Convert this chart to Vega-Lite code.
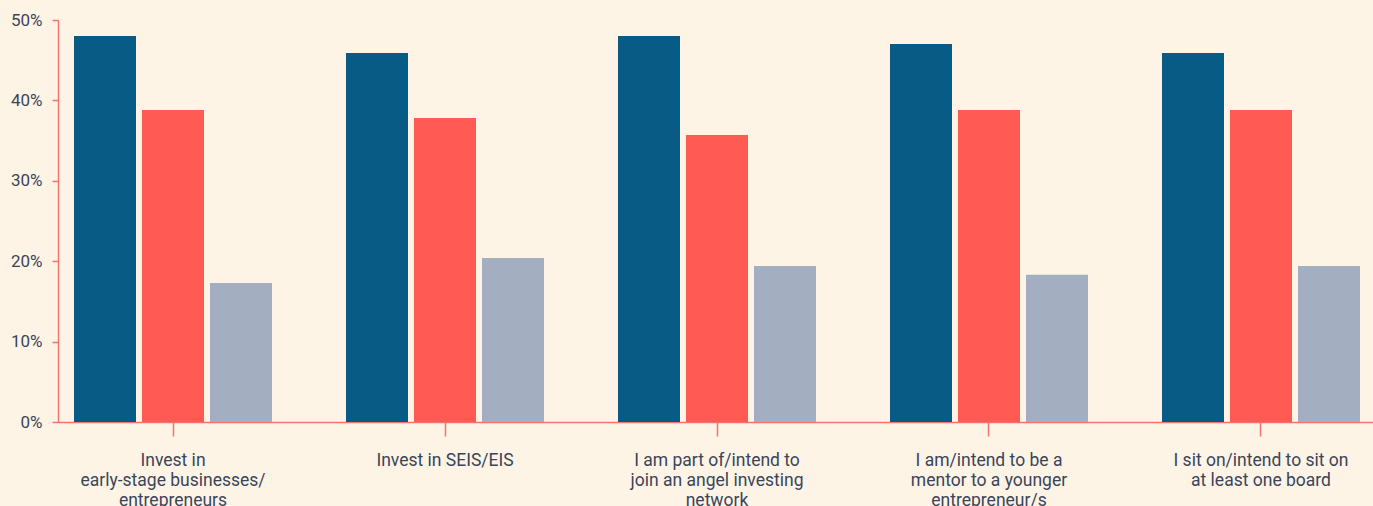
{
  "$schema": "https://vega.github.io/schema/vega-lite/v6.json",
  "autosize": {"type": "none"},
  "padding": {"left": 58, "top": 20, "right": 0, "bottom": 84},
  "width": 1318,
  "height": 402,
  "background": "#fdf4e6",
  "config": {
    "view": {"stroke": null},
    "font": "Roboto",
    "axis": {"labelFont": "Roboto", "labelColor": "#3a4559", "labelFontSize": 17, "grid": false, "domainColor": "#f4736a", "tickColor": "#f4736a", "domainWidth": 1.5, "tickWidth": 1.5}
  },
  "data": {
    "values": [
      {"category": "Invest in|early-stage businesses/|entrepreneurs", "series": "Series 1", "value": 0.480},
      {"category": "Invest in|early-stage businesses/|entrepreneurs", "series": "Series 2", "value": 0.388},
      {"category": "Invest in|early-stage businesses/|entrepreneurs", "series": "Series 3", "value": 0.173},
      {"category": "Invest in SEIS/EIS", "series": "Series 1", "value": 0.459},
      {"category": "Invest in SEIS/EIS", "series": "Series 2", "value": 0.378},
      {"category": "Invest in SEIS/EIS", "series": "Series 3", "value": 0.204},
      {"category": "I am part of/intend to|join an angel investing|network", "series": "Series 1", "value": 0.480},
      {"category": "I am part of/intend to|join an angel investing|network", "series": "Series 2", "value": 0.357},
      {"category": "I am part of/intend to|join an angel investing|network", "series": "Series 3", "value": 0.194},
      {"category": "I am/intend to be a|mentor to a younger|entrepreneur/s", "series": "Series 1", "value": 0.470},
      {"category": "I am/intend to be a|mentor to a younger|entrepreneur/s", "series": "Series 2", "value": 0.388},
      {"category": "I am/intend to be a|mentor to a younger|entrepreneur/s", "series": "Series 3", "value": 0.183},
      {"category": "I sit on/intend to sit on|at least one board", "series": "Series 1", "value": 0.459},
      {"category": "I sit on/intend to sit on|at least one board", "series": "Series 2", "value": 0.388},
      {"category": "I sit on/intend to sit on|at least one board", "series": "Series 3", "value": 0.194}
    ]
  },
  "mark": {"type": "bar"},
  "encoding": {
    "x": {
      "field": "category",
      "type": "nominal",
      "sort": null,
      "scale": {"paddingInner": 0.272, "paddingOuter": 0.0588},
      "axis": {"title": null, "labelAngle": 0, "labelExpr": "split(datum.label, '|')", "labelLineHeight": 20, "labelFontSize": 17.5, "labelPadding": 15, "tickSize": 14, "labelBaseline": "top", "labelLimit": 300}
    },
    "xOffset": {"field": "series", "type": "nominal", "scale": {"paddingInner": 0.0882, "paddingOuter": 0}},
    "y": {
      "field": "value",
      "type": "quantitative",
      "scale": {"domain": [0, 0.5]},
      "axis": {"title": null, "format": ".0%", "values": [0, 0.1, 0.2, 0.3, 0.4, 0.5], "tickSize": 6, "labelPadding": 10}
    },
    "color": {
      "field": "series",
      "type": "nominal",
      "scale": {"domain": ["Series 1", "Series 2", "Series 3"], "range": ["#085b84", "#ff5a54", "#a3aec1"]},
      "legend": null
    }
  }
}
